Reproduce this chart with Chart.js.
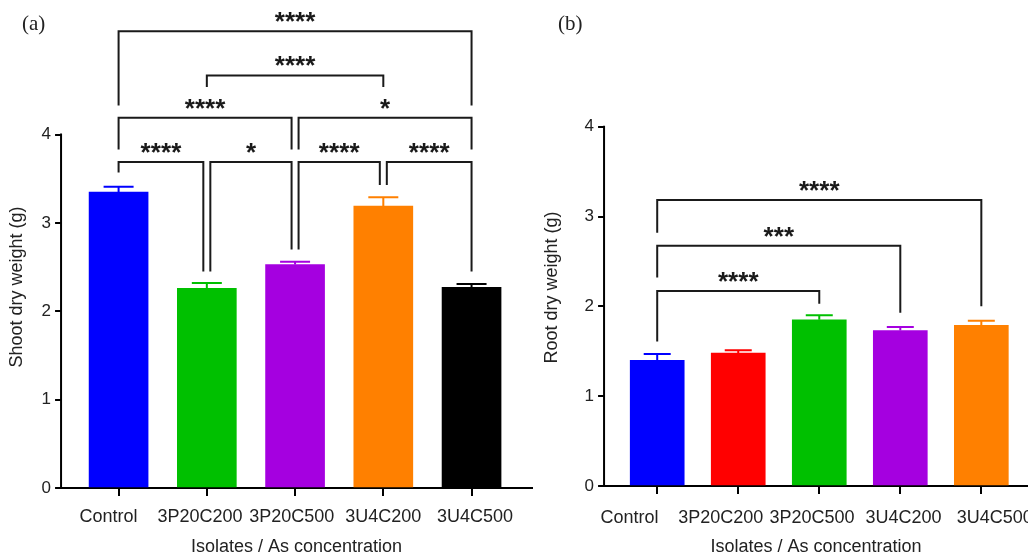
<!DOCTYPE html>
<html><head><meta charset="utf-8">
<script src="https://cdn.jsdelivr.net/npm/chart.js@4.4.1/dist/chart.umd.min.js"></script>
<style>
html,body{margin:0;padding:0;background:#fff;}
#wrap{position:relative;width:1028px;height:556px;overflow:hidden;background:#fff;}
#ca{position:absolute;left:0;top:0;}
#cb{position:absolute;left:540px;top:0;}
.panel{position:absolute;font-family:'Liberation Serif','Times New Roman',serif;font-size:21px;color:#222;line-height:1;}
</style></head>
<body><div id="wrap">
<canvas id="ca" width="540" height="556"></canvas>
<canvas id="cb" width="488" height="556"></canvas>
<div class="panel" style="left:22px;top:13px">(a)</div>
<div class="panel" style="left:558px;top:13px">(b)</div>
</div>
<script>
const categories = ['Control','3P20C200','3P20C500','3U4C200','3U4C500'];
const yTicks = [0,1,2,3,4];

const shootValues = [3.35, 2.26, 2.53, 3.19, 2.27];
const shootErrors = [0.06, 0.06, 0.03, 0.10, 0.04];
const shootColors = ['#0000FF','#00C000','#A500E0','#FF8000','#000000'];

const rootValues = [1.40, 1.48, 1.85, 1.73, 1.79];
const rootErrors = [0.07, 0.03, 0.05, 0.04, 0.05];
const rootColors = ['#0000FF','#FF0000','#00C000','#A500E0','#FF8000'];

// significance brackets (category indices, side nudge, bracket level and leg ends in g)
const shootBrackets = [
  {from:0, to:4, nf:0,  nt:0,  level:5.17, legFrom:4.33, legTo:4.33, label:'****'},
  {from:1, to:3, nf:0,  nt:0,  level:4.67, legFrom:4.54, legTo:4.54, label:'****'},
  {from:0, to:2, nf:0,  nt:-1, level:4.19, legFrom:3.83, legTo:3.83, label:'****'},
  {from:2, to:4, nf:1,  nt:0,  level:4.19, legFrom:3.83, legTo:3.83, label:'*'},
  {from:0, to:1, nf:0,  nt:-1, level:3.69, legFrom:3.57, legTo:2.45, label:'****'},
  {from:1, to:2, nf:1,  nt:-1, level:3.69, legFrom:2.45, legTo:2.70, label:'*'},
  {from:2, to:3, nf:1,  nt:-1, level:3.69, legFrom:2.70, legTo:3.43, label:'****'},
  {from:3, to:4, nf:1,  nt:0,  level:3.69, legFrom:3.43, legTo:2.45, label:'****'}
];
const rootBrackets = [
  {from:0, to:4, nf:0, nt:0, level:3.185, legFrom:2.82, legTo:2.00, label:'****'},
  {from:0, to:3, nf:0, nt:0, level:2.676, legFrom:2.32, legTo:1.93, label:'***'},
  {from:0, to:2, nf:0, nt:0, level:2.171, legFrom:1.61, legTo:2.03, label:'****'}
];

const FONT = "'Liberation Sans', Arial, sans-serif";

const annot = {
  id: 'annot',
  afterDatasetsDraw(chart, args, opts) {
    const ctx = chart.ctx, xs = chart.scales.x, ys = chart.scales.y;
    ctx.save();
    // y axis line from 0 to 4
    ctx.strokeStyle = '#000'; ctx.lineWidth = 2;
    ctx.beginPath();
    ctx.moveTo(chart.chartArea.left, ys.getPixelForValue(0) + 1);
    ctx.lineTo(chart.chartArea.left, ys.getPixelForValue(yTicks[yTicks.length-1]) - 1);
    ctx.stroke();
    // error bars
    opts.values.forEach((v, i) => {
      const px = xs.getPixelForValue(i);
      const top = ys.getPixelForValue(v);
      const cap = ys.getPixelForValue(v + opts.errors[i]);
      ctx.strokeStyle = opts.colors[i]; ctx.lineWidth = 2;
      ctx.beginPath();
      ctx.moveTo(px, top); ctx.lineTo(px, cap);
      ctx.moveTo(px - opts.capW/2, cap); ctx.lineTo(px + opts.capW/2, cap);
      ctx.stroke();
    });
    // brackets
    ctx.strokeStyle = '#1a1a1a'; ctx.lineWidth = 2; ctx.lineJoin = 'miter';
    ctx.fillStyle = '#1a1a1a';
    ctx.font = 'bold 26px ' + FONT;
    ctx.textAlign = 'center'; ctx.textBaseline = 'alphabetic';
    opts.brackets.forEach(b => {
      const xf = xs.getPixelForValue(b.from) + b.nf * 3.5;
      const xt = xs.getPixelForValue(b.to) + b.nt * 3.5;
      const yl = ys.getPixelForValue(b.level);
      ctx.beginPath();
      ctx.moveTo(xf, ys.getPixelForValue(b.legFrom));
      ctx.lineTo(xf, yl);
      ctx.lineTo(xt, yl);
      ctx.lineTo(xt, ys.getPixelForValue(b.legTo));
      ctx.stroke();
      const cx = (xf + xt) / 2, n = b.label.length;
      for (let k = 0; k < n; k++) {
        ctx.fillText('*', cx + (k - (n - 1) / 2) * 10.2, yl - 1);
      }
    });
    ctx.restore();
  }
};

function makeChart(id, c) {
  return new Chart(document.getElementById(id), {
    type: 'bar',
    data: { datasets: [{
      data: c.values.map((v, i) => ({x: i, y: v})),
      backgroundColor: c.colors, borderWidth: 0, barThickness: c.barW
    }]},
    options: {
      responsive: false, animation: false, devicePixelRatio: 1,
      layout: { padding: c.padding },
      plugins: {
        legend: {display: false}, tooltip: {enabled: false},
        annot: { values: c.values, errors: c.errors, colors: c.colors, brackets: c.brackets, capW: c.capW }
      },
      scales: {
        x: {
          type: 'linear', position: 'bottom', min: c.xMin, max: c.xMax, weight: 0, offset: false,
          afterBuildTicks: s => { s.ticks = categories.map((n, i) => ({value: i})); },
          ticks: {display: false},
          grid: {display: true, offset: false, drawOnChartArea: false, drawTicks: true, tickLength: 8, color: '#000', lineWidth: 2},
          border: {display: true, color: '#000', width: 2}
        },
        xl: {
          type: 'linear', position: 'bottom', min: c.lMin, max: c.lMax, weight: 1, offset: false,
          afterBuildTicks: s => { s.ticks = categories.map((n, i) => ({value: i})); },
          ticks: {callback: (v, i) => categories[i], font: {size: 18, family: FONT}, color: '#222',
                  padding: c.labelPad, maxRotation: 0, autoSkip: false},
          grid: {display: false, offset: false, drawTicks: false}, border: {display: false},
          title: {display: true, text: 'Isolates / As concentration', color: '#222',
                  font: {size: 18, family: FONT, lineHeight: c.xTitleLH}, padding: c.xTitlePad},
          afterFit: s => { s.paddingLeft = 0; s.paddingRight = 0; }
        },
        y: {
          type: 'linear', min: 0, max: c.yMax,
          afterBuildTicks: s => { s.ticks = yTicks.map(v => ({value: v})); },
          ticks: {font: {size: 17, family: FONT}, color: '#222', padding: 4},
          grid: {display: true, drawOnChartArea: false, drawTicks: true, tickLength: 6, color: '#000', lineWidth: 2},
          border: {display: false},
          title: {display: true, text: c.yTitle, color: '#222', font: {size: 18, family: FONT}, padding: c.yTitlePad}
        }
      }
    },
    plugins: [annot]
  });
}

makeChart('ca', {
  values: shootValues, errors: shootErrors, colors: shootColors, brackets: shootBrackets,
  barW: 59, capW: 30, xMin: -0.652, xMax: 4.685, lMin: -0.517, lMax: 4.623,
  yMax: 4.55, yTitle: 'Shoot dry weight (g)', yTitlePad: {top: 6, bottom: 10},
  labelPad: 10, xTitleLH: 1, xTitlePad: {top: 0.4, bottom: 0},
  padding: {left: 0, right: 8, top: 86, bottom: 0}
});
makeChart('cb', {
  values: rootValues, errors: rootErrors, colors: rootColors, brackets: rootBrackets,
  barW: 54, capW: 27, xMin: -0.656, xMax: 4.576, lMin: -0.278, lMax: 4.364,
  yMax: 4.42, yTitle: 'Root dry weight (g)', yTitlePad: {top: 1, bottom: 18},
  labelPad: 13.5, xTitleLH: 0.49, xTitlePad: {top: 0, bottom: 4.6},
  padding: {left: 0, right: 0, top: 89, bottom: 0}
});
</script>
</body></html>
